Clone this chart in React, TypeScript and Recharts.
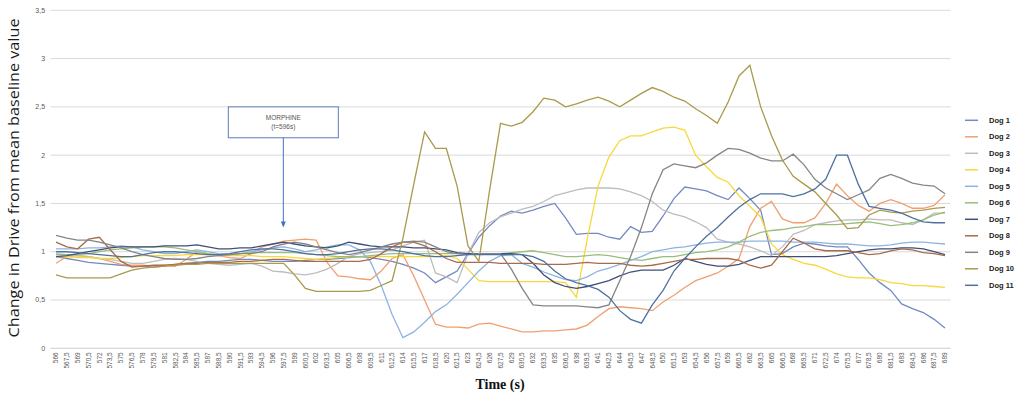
import { LineChart, Line, XAxis, YAxis, CartesianGrid, Legend, ReferenceArea, ReferenceLine } from 'recharts'

// time axis (s), one category every 1.5 s
const times = [
  566, 567.5, 569, 570.5, 572, 573.5, 575, 576.5, 578, 579.5,
  581, 582.5, 584, 585.5, 587, 588.5, 590, 591.5, 593, 594.5,
  596, 597.5, 599, 600.5, 602, 603.5, 605, 606.5, 608, 609.5,
  611, 612.5, 614, 615.5, 617, 618.5, 620, 621.5, 623, 624.5,
  626, 627.5, 629, 630.5, 632, 633.5, 635, 636.5, 638, 639.5,
  641, 642.5, 644, 645.5, 647, 648.5, 650, 651.5, 653, 654.5,
  656, 657.5, 659, 660.5, 662, 663.5, 665, 666.5, 668, 669.5,
  671, 672.5, 674, 675.5, 677, 678.5, 680, 681.5, 683, 684.5,
  686, 687.5, 689,
]

const yTicks = [0, 0.5, 1, 1.5, 2, 2.5, 3, 3.5]

const dog1 = [
  0.95, 0.93, 0.91, 0.89, 0.88, 0.87, 0.86, 0.85, 0.85, 0.84,
  0.85, 0.87, 0.88, 0.89, 0.9, 0.9, 0.91, 0.92, 0.92, 0.91,
  0.9, 0.9, 0.9, 0.91, 0.92, 0.92, 0.93, 0.94, 0.95, 0.94,
  0.92, 0.9, 0.87, 0.83, 0.78, 0.68, 0.74, 0.8, 0.98, 1.15,
  1.27, 1.37, 1.42, 1.4, 1.43, 1.47, 1.5, 1.35, 1.18, 1.19,
  1.19, 1.15, 1.13, 1.26, 1.2, 1.21, 1.37, 1.55, 1.67, 1.65,
  1.63, 1.58, 1.54, 1.66, 1.55, 1.43, 0.97, 0.98, 1.05, 1.09,
  1.08, 1.06, 1.05, 1.05, 0.92, 0.78, 0.68, 0.6, 0.46, 0.41,
  0.37, 0.3, 0.21,
]
const dog2 = [
  0.88, 0.95, 0.96, 0.95, 0.93, 0.9, 0.87, 0.86, 0.86, 0.85,
  0.86, 0.85, 0.92, 1.0, 0.98, 0.96, 0.94, 0.93, 0.98, 1.05,
  1.08, 1.11, 1.12, 1.13, 1.12, 0.89, 0.75, 0.74, 0.72, 0.71,
  0.8, 0.93, 0.97, 0.75, 0.5, 0.25, 0.22, 0.22, 0.21, 0.25,
  0.26, 0.23, 0.2, 0.17, 0.17, 0.18, 0.18, 0.19, 0.2, 0.24,
  0.33, 0.41, 0.43, 0.42, 0.41, 0.39, 0.48, 0.55, 0.63, 0.7,
  0.74, 0.78, 0.85, 0.93, 1.26, 1.45, 1.52, 1.34, 1.3, 1.3,
  1.35, 1.5, 1.7, 1.58, 1.48, 1.42, 1.5, 1.54, 1.5, 1.45,
  1.45, 1.48, 1.59,
]
const dog3 = [
  0.98, 0.97, 0.96, 0.95, 0.93, 0.92, 0.9, 0.88, 0.88, 0.9,
  0.92, 0.93, 0.92, 0.9, 0.88, 0.87, 0.86, 0.87, 0.88, 0.85,
  0.8, 0.79, 0.77, 0.76, 0.78, 0.82, 0.88, 0.95, 0.98, 0.99,
  1.0, 1.02, 1.06, 1.1, 1.12, 0.78, 0.74, 0.68, 0.98, 1.2,
  1.3, 1.36, 1.4, 1.44, 1.47, 1.52, 1.58, 1.61, 1.64, 1.66,
  1.66, 1.66, 1.65, 1.62, 1.58, 1.52, 1.43, 1.39, 1.36, 1.31,
  1.25, 1.13, 1.1, 1.08, 1.05, 1.01, 0.96, 1.05, 1.18, 1.22,
  1.28, 1.3, 1.32, 1.33, 1.33, 1.34, 1.33, 1.33, 1.3, 1.28,
  1.33, 1.4, 1.4,
]
const dog4 = [
  0.95, 0.95, 0.94, 0.94, 0.93, 0.93, 0.94, 0.95, 0.96, 0.96,
  0.96, 0.96, 0.97, 0.97, 0.97, 0.96, 0.96, 0.96, 0.96, 0.95,
  0.95, 0.95, 0.94, 0.93, 0.92, 0.93, 0.94, 0.95, 0.95, 0.95,
  0.95, 0.95, 0.95, 0.95, 0.95, 0.95, 0.96, 0.93, 0.82, 0.7,
  0.69, 0.69, 0.69, 0.69, 0.69, 0.69, 0.69, 0.68, 0.53, 1.13,
  1.68, 1.98, 2.15, 2.2, 2.2, 2.24, 2.28, 2.29, 2.26, 2.0,
  1.88, 1.77, 1.72, 1.58, 1.47, 1.36, 1.08, 0.97, 0.92, 0.88,
  0.86, 0.82, 0.77, 0.74, 0.73, 0.73, 0.71, 0.68, 0.67, 0.65,
  0.65, 0.64, 0.63,
]
const dog5 = [
  1.03, 1.03, 1.03, 1.04, 1.04, 1.05, 1.06, 1.05, 1.02, 1.0,
  0.98, 0.98, 1.0, 1.02, 1.0, 0.98, 0.97, 0.98, 1.0, 1.02,
  1.04, 1.05, 1.03, 1.0, 1.02, 1.05, 1.07, 1.07, 1.02, 0.9,
  0.65, 0.35, 0.11, 0.17, 0.27, 0.38, 0.45, 0.56, 0.68, 0.8,
  0.9, 0.96, 0.97, 0.88, 0.84, 0.79, 0.75, 0.71, 0.7, 0.74,
  0.8, 0.83, 0.87, 0.91, 0.95, 1.0, 1.02, 1.04, 1.05, 1.07,
  1.09, 1.1, 1.1, 1.1, 1.11, 1.11, 1.11, 1.11, 1.1, 1.1,
  1.1, 1.09, 1.08, 1.08, 1.07, 1.06, 1.06, 1.07, 1.09, 1.1,
  1.1, 1.09, 1.08,
]
const dog6 = [
  0.97, 0.97, 0.97, 0.98, 1.0, 1.02, 1.03, 1.04, 1.05, 1.05,
  1.05, 1.04, 1.02, 1.0, 0.98, 0.97, 0.97, 0.98, 0.99, 0.99,
  0.99, 0.99, 0.99, 0.98, 0.97, 0.96, 0.95, 0.95, 0.95, 0.96,
  0.97, 0.98, 0.98, 0.98, 0.98, 0.98, 0.98, 0.98, 0.98, 0.98,
  0.98, 0.98, 0.99, 1.0, 1.01, 0.99, 0.97, 0.95, 0.95, 0.96,
  0.97, 0.96, 0.94, 0.92, 0.91, 0.93, 0.95, 0.95, 0.97, 0.99,
  1.0, 1.02, 1.05, 1.1, 1.16, 1.2, 1.22, 1.23, 1.25, 1.26,
  1.28, 1.28, 1.28, 1.29, 1.3, 1.31, 1.29, 1.27, 1.28, 1.3,
  1.33, 1.38, 1.41,
]
const dog7 = [
  0.95, 0.96, 0.98, 1.0, 1.02, 1.04, 1.05, 1.05, 1.05, 1.05,
  1.06, 1.06, 1.06, 1.07, 1.05, 1.03, 1.03, 1.04, 1.04, 1.06,
  1.08, 1.1, 1.08, 1.06, 1.05, 1.04, 1.06, 1.1, 1.08, 1.06,
  1.05, 1.05, 1.05, 1.04, 1.04, 1.03, 1.02, 0.99, 0.98, 0.98,
  0.98, 0.98, 0.98, 0.97, 0.88, 0.76, 0.68, 0.64, 0.62, 0.64,
  0.67, 0.7, 0.75, 0.79, 0.81, 0.81, 0.81, 0.86, 0.93, 0.9,
  0.87, 0.85, 0.85, 0.87, 0.91, 0.95, 0.95, 0.95, 0.95, 0.95,
  0.95, 0.95, 0.96, 0.98, 1.0, 1.02, 1.03, 1.03, 1.04, 1.04,
  1.03, 1.0, 0.97,
]
const dog8 = [
  1.1, 1.05, 1.03, 1.13, 1.15, 1.02, 0.9, 0.84, 0.85, 0.86,
  0.86, 0.87, 0.88, 0.88, 0.89, 0.89, 0.89, 0.9, 0.9, 0.91,
  0.92, 0.92, 0.91, 0.9, 0.9, 0.9, 0.9, 0.9, 0.9, 0.92,
  0.98, 1.05, 1.1, 1.1, 1.06, 1.0, 0.93, 0.89, 0.89, 0.89,
  0.89, 0.88, 0.88, 0.88, 0.88, 0.87, 0.87, 0.87, 0.88, 0.89,
  0.88, 0.88, 0.88, 0.86, 0.85, 0.86, 0.88, 0.9, 0.92, 0.92,
  0.93, 0.93, 0.93, 0.91, 0.86, 0.83, 0.86, 1.0, 1.14, 1.09,
  1.03, 1.01, 1.01, 1.01, 0.99, 0.97, 0.98, 1.01, 1.03, 1.02,
  0.99, 0.98, 0.96,
]
const dog9 = [
  1.17, 1.14, 1.12, 1.12, 1.1, 1.07, 1.04, 1.0, 0.97, 0.95,
  0.93, 0.92, 0.92, 0.93, 0.95, 0.96, 0.97, 0.98, 0.98, 1.0,
  1.05, 1.08, 1.1, 1.08, 1.05, 1.02, 0.99, 0.97, 0.99, 1.02,
  1.05, 1.08, 1.1, 1.11, 1.1, 1.05, 1.0, 0.98, 0.97, 0.98,
  0.98, 0.98, 0.82, 0.62, 0.45, 0.44, 0.44, 0.44, 0.44, 0.43,
  0.42, 0.45, 0.7, 0.95, 1.25, 1.6, 1.85, 1.91, 1.89, 1.87,
  1.92, 2.0, 2.07, 2.06, 2.02, 1.97, 1.94, 1.94, 2.01, 1.9,
  1.75, 1.66, 1.6, 1.54, 1.59, 1.64, 1.76, 1.8, 1.76, 1.71,
  1.69, 1.68, 1.6,
]
const dog10 = [
  0.76, 0.73, 0.73, 0.73, 0.73, 0.73, 0.77, 0.81, 0.83, 0.84,
  0.85, 0.86, 0.87, 0.87, 0.88, 0.88, 0.88, 0.88, 0.88, 0.88,
  0.88, 0.88, 0.76, 0.62, 0.59, 0.59, 0.59, 0.59, 0.59, 0.6,
  0.65, 0.7, 1.14, 1.7, 2.24, 2.07, 2.07, 1.68, 1.06, 0.9,
  1.64, 2.33, 2.3, 2.34, 2.45, 2.59, 2.57, 2.5, 2.53, 2.57,
  2.6, 2.56, 2.5, 2.57, 2.64, 2.7, 2.66, 2.6, 2.56, 2.48,
  2.41, 2.33, 2.55, 2.82, 2.93, 2.5, 2.2, 1.95, 1.78, 1.7,
  1.62, 1.5, 1.38, 1.24, 1.25, 1.38, 1.43, 1.41, 1.4, 1.42,
  1.43, 1.45, 1.46,
]
const dog11 = [
  1.0, 1.0, 0.99, 0.98, 0.97, 0.96, 0.95, 0.95, 0.97, 0.99,
  1.0, 1.0, 0.99, 0.98, 0.97, 0.97, 0.98, 1.0, 1.02, 1.03,
  1.03, 1.02, 1.0, 0.98, 0.97, 0.97, 0.98, 1.0, 1.02, 1.03,
  1.03, 1.02, 1.0, 0.98, 0.96, 0.95, 0.95, 0.96, 0.97, 0.97,
  0.97, 0.97, 0.97, 0.97, 0.95, 0.9, 0.8, 0.72, 0.68, 0.65,
  0.61, 0.53, 0.39, 0.3, 0.26, 0.45, 0.6, 0.8, 0.93, 1.05,
  1.16, 1.25, 1.36, 1.46, 1.54, 1.6, 1.6, 1.6, 1.57, 1.6,
  1.65, 1.75, 2.0, 2.0, 1.7, 1.47, 1.45, 1.43, 1.4, 1.35,
  1.31, 1.3, 1.3,
]

const dogNames = ['Dog 1', 'Dog 2', 'Dog 3', 'Dog 4', 'Dog 5', 'Dog 6', 'Dog 7', 'Dog 8', 'Dog 9', 'Dog 10', 'Dog 11']
const dogColors = ['#7389c2', '#f0a070', '#bdbdbd', '#f7d83a', '#8db3e0', '#97bf7a', '#3e4f78', '#a86a48', '#858585', '#a99a4c', '#50709f']
const dogValues = [dog1, dog2, dog3, dog4, dog5, dog6, dog7, dog8, dog9, dog10, dog11]

const data = times.map((t, i) => {
  const row: Record<string, number> = { t }
  dogValues.forEach((vals, k) => { row[`dog${k + 1}`] = vals[i] })
  return row
})

const comma = (v: number) => String(v).replace('.', ',')
const sans = 'Liberation Sans, Arial, sans-serif'

const TimeTick = ({ x, y, payload }: any) => (
  <text
    x={x}
    y={y}
    transform={`rotate(-90, ${x}, ${y})`}
    textAnchor="end"
    dy="0.35em"
    fontSize={6.5}
    fill="#595959"
    fontFamily={sans}
  >
    {comma(payload.value)}
  </text>
)

// annotation box for the morphine injection
const MorphineBox = (props: any) => {
  const { x, y, width, height } = props
  const cx = x + width / 2
  return (
    <g>
      <rect x={x} y={y} width={width} height={height} fill="#fff" stroke="#5b7db8" strokeWidth={1} />
      <text x={cx} y={y + 13} textAnchor="middle" fontSize={6.5} fill="#555" fontFamily={sans}>MORPHINE</text>
      <text x={cx} y={y + 22.5} textAnchor="middle" fontSize={6.5} fill="#555" fontFamily={sans}>(t=596s)</text>
    </g>
  )
}

const Arrow = (props: any) => {
  const { x1, y1, x2, y2 } = props
  return (
    <g>
      <line x1={x1} y1={y1} x2={x2} y2={y2 - 5} stroke="#4472c4" strokeWidth={1} />
      <polygon points={`${x2 - 2.5},${y2 - 6} ${x2 + 2.5},${y2 - 6} ${x2},${y2}`} fill="#4472c4" />
    </g>
  )
}

const DogLegend = () => (
  <svg width={60} height={185} style={{ display: 'block' }}>
    {dogNames.map((name, k) => {
      const cy = 8.3 + 16.5 * k
      return (
        <g key={name}>
          <line x1={3} x2={16} y1={cy} y2={cy} stroke={dogColors[k]} strokeWidth={1.5} />
          <text x={27} y={cy} dy="0.35em" fontSize={7.5} fontWeight="bold" fill="#222" fontFamily={sans}>{name}</text>
        </g>
      )
    })}
  </svg>
)

export default function App() {
  return (
    <div style={{ position: 'absolute', left: 0, top: 0, background: '#fff' }}>
      <LineChart
        width={1021}
        height={402}
        data={data}
        margin={{ top: 10.3, right: 70.6, bottom: 13.7, left: 0 }}
      >
        <CartesianGrid vertical={false} stroke="#d9d9d9" />
        <XAxis
          dataKey="t"
          type="number"
          domain={[565.25, 689.75]}
          ticks={times}
          interval={0}
          height={40}
          tickLine={false}
          tickSize={2}
          tickMargin={2}
          axisLine={{ stroke: '#d9d9d9' }}
          tick={<TimeTick />}
          label={{
            content: () => (
              <text x={500} y={389} textAnchor="middle" fontSize={14} fontWeight="bold" fill="#111" fontFamily="Liberation Serif, Times New Roman, serif">
                Time (s)
              </text>
            ),
          }}
        />
        <YAxis
          type="number"
          domain={[0, 3.5]}
          ticks={yTicks}
          width={50.6}
          tickLine={false}
          axisLine={false}
          tickSize={4}
          tickMargin={1.5}
          tickFormatter={comma}
          tick={{ fontSize: 7, fill: '#595959', fontFamily: sans }}
          label={{
            content: () => (
              <text
                x={0}
                y={0}
                transform="translate(19, 178) rotate(-90)"
                textAnchor="middle"
                fontSize={14}
                fill="#1a1a1a"
                fontFamily="Open Sans, sans-serif"
                textLength={319}
                lengthAdjust="spacingAndGlyphs"
              >
                Change in Drive from mean baseline value
              </text>
            ),
          }}
        />
        {dogNames.map((name, k) => (
          <Line
            key={name}
            type="linear"
            dataKey={`dog${k + 1}`}
            name={name}
            stroke={dogColors[k]}
            strokeWidth={1.3}
            dot={false}
            activeDot={false}
            isAnimationActive={false}
          />
        ))}
        <ReferenceArea x1={589.84} x2={605.06} y1={2.18} y2={2.5} shape={<MorphineBox />} />
        <ReferenceLine
          segment={[{ x: 597.45, y: 2.18 }, { x: 597.45, y: 1.25 }]}
          shape={<Arrow />}
        />
        <Legend
          layout="vertical"
          align="center"
          verticalAlign="middle"
          content={<DogLegend />}
          wrapperStyle={{ left: 962, top: 112.4, width: 60, height: 185 }}
        />
      </LineChart>
    </div>
  )
}
